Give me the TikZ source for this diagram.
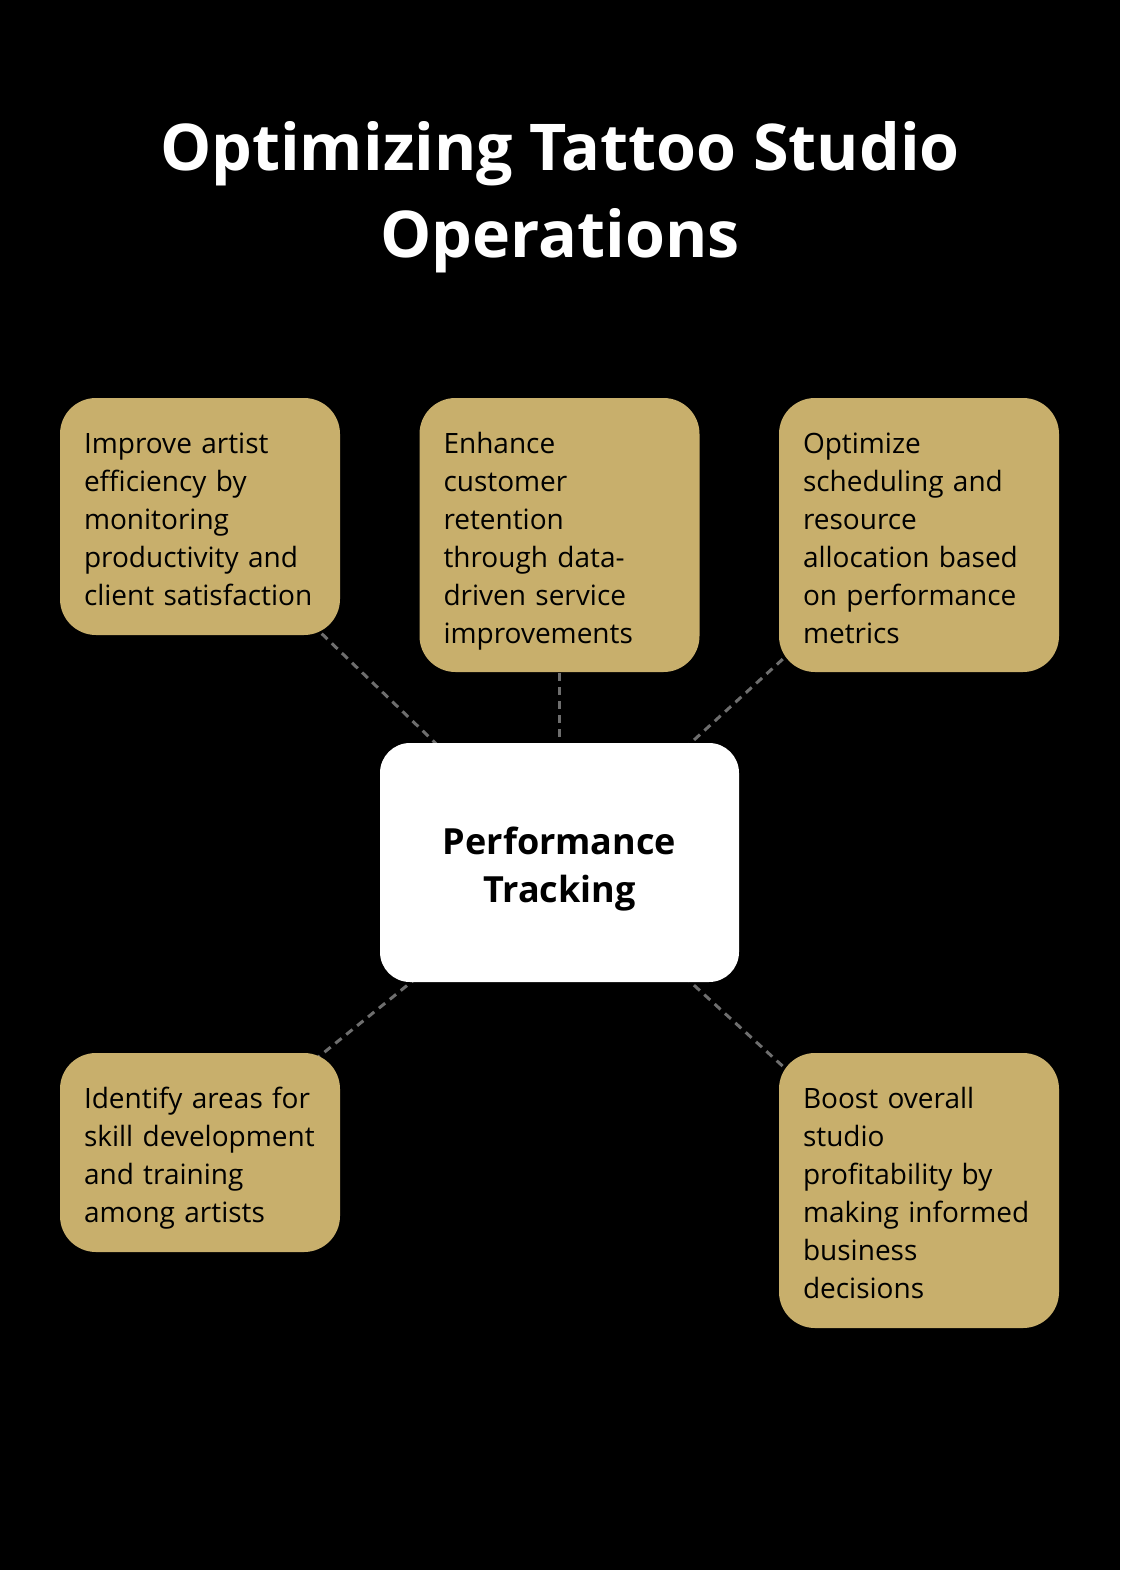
\documentclass[tikz,border=0pt]{standalone}
\usepackage{fontspec}
\setmainfont{Open Sans}
\definecolor{boxgold}{HTML}{C8AF6C}
\definecolor{linegray}{HTML}{6E6E6E}
\pgfdeclarelayer{back}
\pgfsetlayers{back,main}

\begin{document}
\begin{tikzpicture}[
    x=1pt, y=-1pt,
    lines/.style={execute at begin node={\rule{0pt}{#1}}, execute at end node={\rule[-0.3em]{0pt}{0.3em}}},
    box/.style={rectangle, rounded corners=36pt, fill=boxgold, inner xsep=24pt, inner ysep=0pt,
        text width=232pt, align=left, font=\fontsize{28}{38}\selectfont, lines=1.25em},
    hub/.style={rectangle, rounded corners=30pt, fill=white, inner xsep=24pt, inner ysep=0pt,
        text width=311pt, minimum height=239pt,
        align=center, font=\bfseries\fontsize{36}{48}\selectfont, lines=1.17em},
    conn/.style={line width=3pt, linegray, dash pattern=on 8pt off 6pt}
]
    \useasboundingbox (0,0) rectangle (1120,1570);

    \node[white, align=center, font=\bfseries\fontsize{64.5}{87}\selectfont] (title) at (560,197)
        {Optimizing Tattoo Studio\\Operations};

    \node[hub] (hub) at (559.5,862.5) {Performance\\Tracking};

    \node[box, minimum height=237pt] (b1) at (200,516.5)
        {Improve artist\\efficiency by\\monitoring\\productivity and\\client satisfaction};
    \node[box, minimum height=274pt] (b2) at (559.5,535)
        {Enhance\\customer\\retention\\through data-\\driven service\\improvements};
    \node[box, minimum height=274pt] (b3) at (919,535)
        {Optimize\\scheduling and\\resource\\allocation based\\on performance\\metrics};
    \node[box, minimum height=199pt] (b4) at (200,1152.5)
        {Identify areas for\\skill development\\and training\\among artists};
    \node[box, minimum height=275pt] (b5) at (919,1190.5)
        {Boost overall\\studio\\profitability by\\making informed\\business\\decisions};

    \begin{pgfonlayer}{back}
        \fill[black] (0,0) rectangle (1120,1570);
        \draw[conn] (hub.center) -- (b1.center);
        \draw[conn] (hub.center) -- (b2.center);
        \draw[conn] (hub.center) -- (b3.center);
        \draw[conn] (hub.center) -- (b4.center);
        \draw[conn] (hub.center) -- (b5.center);
    \end{pgfonlayer}
\end{tikzpicture}
\end{document}
